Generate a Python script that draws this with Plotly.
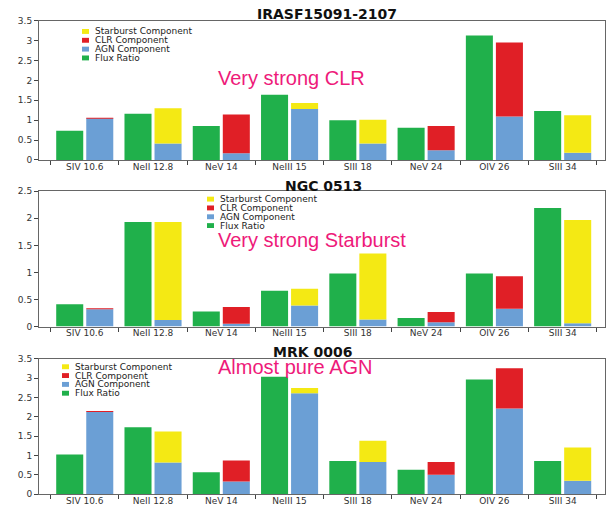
import plotly.graph_objects as go
from plotly.subplots import make_subplots

############# Data #############
lines = ['SIV 10.6', 'NeII 12.8', 'NeV 14', 'NeIII 15', 'SIII 18', 'NeV 24', 'OIV 26', 'SIII 34']

# IRASF15091-2107
flux_iras = [0.73, 1.16, 0.85, 1.64, 1.00, 0.81, 3.13, 1.23]
agn_iras = [1.05, 0.41, 0.17, 1.28, 0.41, 0.24, 1.09, 0.18]
clr_iras = [0.01, 0.00, 0.97, 0.00, 0.00, 0.61, 1.86, 0.00]
sb_iras = [0.00, 0.89, 0.00, 0.15, 0.60, 0.00, 0.00, 0.94]

# NGC 0513
flux_ngc = [0.41, 1.93, 0.28, 0.66, 0.98, 0.16, 0.98, 2.19]
agn_ngc = [0.32, 0.12, 0.05, 0.39, 0.13, 0.08, 0.33, 0.06]
clr_ngc = [0.01, 0.00, 0.31, 0.00, 0.00, 0.19, 0.60, 0.00]
sb_ngc = [0.00, 1.81, 0.00, 0.31, 1.22, 0.00, 0.00, 1.91]

# MRK 0006
flux_mrk = [1.03, 1.73, 0.57, 3.04, 0.86, 0.63, 2.97, 0.86]
agn_mrk = [2.13, 0.82, 0.33, 2.61, 0.83, 0.50, 2.22, 0.35]
clr_mrk = [0.02, 0.00, 0.54, 0.00, 0.00, 0.33, 1.04, 0.00]
sb_mrk = [0.00, 0.80, 0.00, 0.14, 0.55, 0.00, 0.00, 0.86]

titles = ['IRASF15091-2107', 'NGC 0513', 'MRK 0006']
notes = ['Very strong CLR', 'Very strong Starburst', 'Almost pure AGN']
y_max = [3.5, 2.5, 3.5]

series_names = ['Starburst Component', 'CLR Component', 'AGN Component', 'Flux Ratio']
series_colors = ['#f4e914', '#e01f26', '#6b9fd5', '#20b04b']

panels = [
    (flux_iras, agn_iras, clr_iras, sb_iras),
    (flux_ngc, agn_ngc, clr_ngc, sb_ngc),
    (flux_mrk, agn_mrk, clr_mrk, sb_mrk),
]

############# Layout helpers (pixels -> paper) #############
W, H = 613, 509
def px(x):
    return x / W
def py(y):
    return 1 - y / H

plot_boxes = [(16, 158), (190, 328), (361, 499)]   # top, bottom in px
title_pos = [(327, 9), (323, 185), (312, 354)]
note_pos = [(291, 74), (312, 240), (295, 369)]
legend_pos = [(82, 27), (207, 198), (62, 369)]

############# Plotting Chart #############
fig = make_subplots(rows=3, cols=1)

for i, (flux, agn, clr, sb) in enumerate(panels):
    r = i + 1
    base_clr = agn
    base_sb = [a + c for a, c in zip(agn, clr)]
    fig.add_trace(go.Bar(x=lines, y=flux, name='Flux Ratio', offsetgroup='flux',
                         marker=dict(color=series_colors[3], line=dict(width=0))), row=r, col=1)
    fig.add_trace(go.Bar(x=lines, y=agn, name='AGN Component', offsetgroup='comp',
                         marker=dict(color=series_colors[2], line=dict(width=0))), row=r, col=1)
    fig.add_trace(go.Bar(x=lines, y=clr, base=base_clr, name='CLR Component', offsetgroup='comp',
                         marker=dict(color=series_colors[1], line=dict(width=0))), row=r, col=1)
    fig.add_trace(go.Bar(x=lines, y=sb, base=base_sb, name='Starburst Component', offsetgroup='comp',
                         marker=dict(color=series_colors[0], line=dict(width=0))), row=r, col=1)

    top, bottom = plot_boxes[i]
    xa = 'xaxis' if r == 1 else f'xaxis{r}'
    ya = 'yaxis' if r == 1 else f'yaxis{r}'
    fig.layout[xa].update(domain=[px(39), px(605)], range=[-0.67, 7.62],
                          showline=True, linecolor='#666', linewidth=1, mirror=True,
                          ticks='outside', tickson='boundaries', ticklen=4, tickcolor='#444',
                          ticklabelstandoff=-2,
                          showgrid=False, tickfont=dict(family='DejaVu Sans', size=9, color='#333'))
    fig.layout[ya].update(domain=[py(bottom), py(top)], range=[0, y_max[i]], dtick=0.5,
                          showline=True, linecolor='#666', linewidth=1, mirror=True,
                          ticks='outside', ticklen=4, tickcolor='#444', showgrid=False, zeroline=False,
                          tickfont=dict(family='DejaVu Sans', size=9, color='#333'))

    # titles and notes
    tx, ty = title_pos[i]
    fig.add_annotation(text='<b>' + titles[i] + '</b>', x=px(tx), y=py(ty), xref='paper', yref='paper',
                       showarrow=False, xanchor='center', yanchor='middle',
                       font=dict(family='DejaVu Sans', size=14, color='#111'))
    nx, ny = note_pos[i]
    fig.add_annotation(text=notes[i], x=px(nx), y=py(ny), xref='paper', yref='paper',
                       showarrow=False, xanchor='center', yanchor='middle',
                       font=dict(family='Liberation Sans', size=20, color='#ee1a7a'))

    # small legend block
    lx, ly = legend_pos[i]
    for k, (name, col) in enumerate(zip(series_names, series_colors)):
        yy = ly + 9 * k
        fig.add_shape(type='rect', xref='paper', yref='paper',
                      x0=px(lx), x1=px(lx + 7), y0=py(yy + 2.5), y1=py(yy - 2.5),
                      fillcolor=col, line=dict(width=0))
        fig.add_annotation(text=name, x=px(lx + 12), y=py(yy), xref='paper', yref='paper',
                           showarrow=False, xanchor='left', yanchor='middle', borderpad=0,
                           font=dict(family='DejaVu Sans', size=9, color='#222'))

fig.update_layout(
    width=W, height=H,
    margin=dict(l=0, r=0, t=0, b=0),
    barmode='group', bargap=0.12, bargroupgap=0.1,
    showlegend=False,
    plot_bgcolor='white', paper_bgcolor='white',
)

fig.write_html("out.html", config={'displayModeBar': False},
               post_script="document.body.style.margin='0px';")
